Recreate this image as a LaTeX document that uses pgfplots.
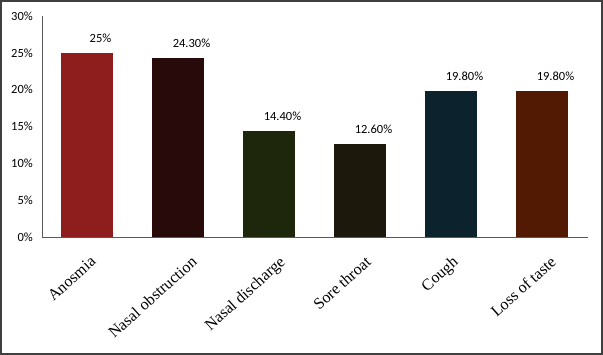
\documentclass[border=0pt]{standalone}
\usepackage{pgfplots}
\pgfplotsset{compat=1.18}
\usepackage{fontspec}
\setmainfont{Liberation Serif}
\newfontfamily\calfont{Carlito}
\definecolor{c1}{HTML}{8E1E1E}
\definecolor{c2}{HTML}{280A0A}
\definecolor{c3}{HTML}{1E260C}
\definecolor{c4}{HTML}{1C180C}
\definecolor{c5}{HTML}{0C222C}
\definecolor{c6}{HTML}{521A02}
\definecolor{axgray}{HTML}{595959}
\definecolor{framegray}{HTML}{404040}
\begin{document}
\begin{tikzpicture}[x=1pt,y=1pt]
\fill[white] (0,0) rectangle (603,355);
\draw[framegray, line width=1.6pt] (0.8,0.8) rectangle (602.2,354.2);
\begin{axis}[
  at={(42pt,118pt)}, anchor=south west,
  scale only axis, width=546pt, height=221pt,
  xmin=-0.5, xmax=5.5, ymin=0, ymax=30,
  axis x line=bottom, axis y line=left,
  axis line style={-, axgray, line width=0.8pt},
  major tick length=0pt,
  ytick={0,5,10,15,20,25,30},
  yticklabel={\pgfmathprintnumber{\tick}\%},
  /pgf/number format/assume math mode=true,
  yticklabel style={font=\calfont\fontsize{12.5}{14}\selectfont, anchor=east, inner sep=0pt, xshift=-9pt},
  xtick={0,1,2,3,4,5},
  xticklabels={Anosmia, Nasal obstruction, Nasal discharge, Sore throat, Cough, Loss of taste},
  xticklabel style={font=\fontsize{16}{18}\selectfont, inner sep=0pt,
     xshift={{2,12,9,4,0,7}[\ticknum]*1pt}, yshift=-18pt, rotate=42, anchor=north east},
  ybar, bar width=52pt,
  point meta=explicit symbolic,
  nodes near coords,
  every node near coord/.append style={font=\calfont\fontsize{12.5}{14}\selectfont, anchor=center, xshift=13pt, yshift=15pt, inner sep=0pt, text=black},
  clip=false,
]
\addplot[fill=c1, draw=none, bar shift=0pt] coordinates {(0,25) [25\%]};
\addplot[fill=c2, draw=none, bar shift=0pt] coordinates {(1,24.3) [24.30\%]};
\addplot[fill=c3, draw=none, bar shift=0pt] coordinates {(2,14.4) [14.40\%]};
\addplot[fill=c4, draw=none, bar shift=0pt] coordinates {(3,12.6) [12.60\%]};
\addplot[fill=c5, draw=none, bar shift=0pt] coordinates {(4,19.8) [19.80\%]};
\addplot[fill=c6, draw=none, bar shift=0pt] coordinates {(5,19.8) [19.80\%]};
\end{axis}
\end{tikzpicture}
\end{document}
